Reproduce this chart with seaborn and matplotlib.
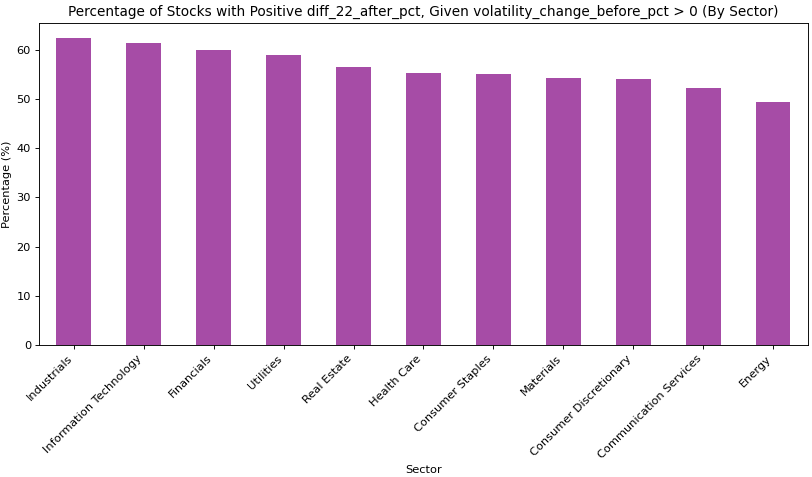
import matplotlib
matplotlib.use("Agg")
import matplotlib.pyplot as plt
import seaborn as sns
import pandas as pd

sectors = [
    "Industrials", "Information Technology", "Financials", "Utilities",
    "Real Estate", "Health Care", "Consumer Staples", "Materials",
    "Consumer Discretionary", "Communication Services", "Energy",
]
pct_positive = [62.3, 61.4, 59.9, 58.9, 56.5, 55.2, 55.0, 54.2, 54.1, 52.2, 49.3]

df = pd.DataFrame({"Sector": sectors, "Percentage": pct_positive})

# low dpi so default font sizes match the reference scale
DPI = 82
fig, ax = plt.subplots(figsize=(812 / DPI, 477 / DPI), dpi=DPI)
sns.barplot(data=df, x="Sector", y="Percentage", color="purple", alpha=0.7,
            width=0.5, saturation=1, ax=ax)
ax.set_xlim(-0.5, len(sectors) - 0.5)
ax.set_ylim(0, max(pct_positive) * 1.05)
ax.set_title("Percentage of Stocks with Positive diff_22_after_pct, Given volatility_change_before_pct > 0 (By Sector)")
ax.set_xlabel("Sector")
ax.set_ylabel("Percentage (%)")
plt.setp(ax.get_xticklabels(), rotation=45, ha="right")

fig.subplots_adjust(left=0.048, right=0.995, top=0.952, bottom=0.276)
fig.savefig("out.png", dpi=DPI)
